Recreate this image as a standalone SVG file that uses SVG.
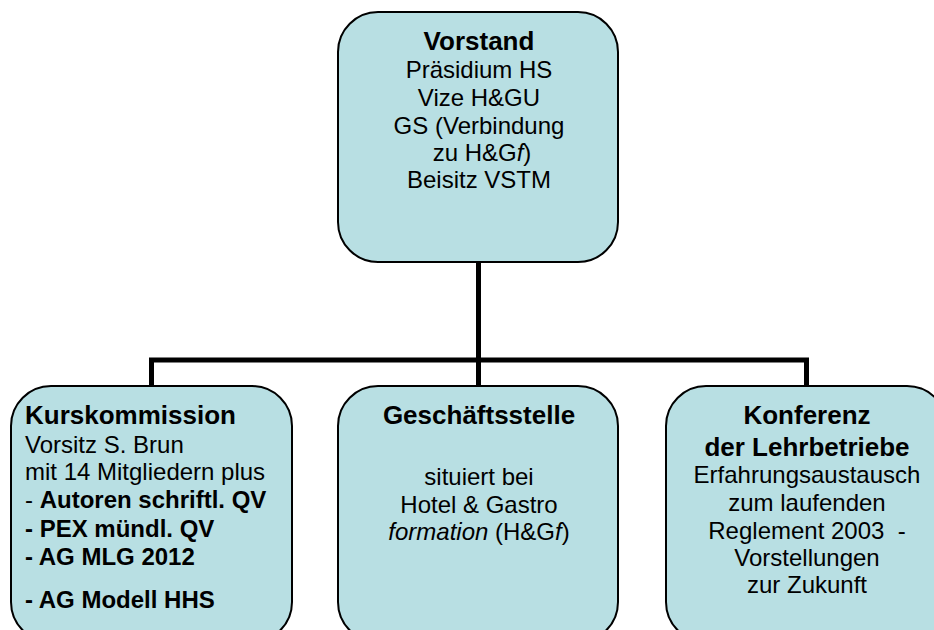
<svg xmlns="http://www.w3.org/2000/svg" width="934" height="630" viewBox="0 0 934 630">
<style>
.box{fill:#B8DFE3;stroke:#000;stroke-width:2}
.t{font-family:"Liberation Sans",Arial,sans-serif;font-size:24px;fill:#000}
.c{text-anchor:middle}
.b{font-weight:bold}
.h{font-weight:bold;font-size:26px}
.i{font-style:italic}
.conn{fill:none;stroke:#000;stroke-width:5;stroke-linejoin:miter;stroke-linecap:butt}
</style>
<rect width="934" height="630" fill="#fff"/>
<g id="connectors">
<path class="conn" d="M151.5,386 V360 H806.5 V386 M478.5,262 V386"/>
</g>
<g id="vorstand">
<rect class="box" x="338" y="12" width="280" height="250" rx="40" ry="40"/>
<text class="t c h" x="479" y="50">Vorstand</text>
<text class="t c" x="479" y="78">Präsidium HS</text>
<text class="t c" x="479" y="106">Vize H&amp;GU</text>
<text class="t c" x="479" y="134">GS (Verbindung</text>
<text class="t c" x="482" y="161">zu H&amp;G<tspan class="i">f</tspan>)</text>
<text class="t c" x="479" y="188">Beisitz VSTM</text>
</g>
<g id="kurskommission">
<rect class="box" x="11" y="386" width="281" height="256" rx="40" ry="40"/>
<text class="t h" x="25" y="424">Kurskommission</text>
<text class="t" x="25" y="453">Vorsitz S. Brun</text>
<text class="t" x="25" y="480">mit 14 Mitgliedern plus</text>
<text class="t" x="25" y="508">- <tspan class="b">Autoren schriftl. QV</tspan></text>
<text class="t b" x="25" y="537">- PEX mündl. QV</text>
<text class="t b" x="25" y="565">- AG MLG 2012</text>
<text class="t b" x="25" y="608">- AG Modell HHS</text>
</g>
<g id="geschaeftsstelle">
<rect class="box" x="338" y="386" width="280" height="256" rx="40" ry="40"/>
<text class="t c h" x="479" y="424">Geschäftsstelle</text>
<text class="t c" x="479" y="485">situiert bei</text>
<text class="t c" x="479" y="513">Hotel &amp; Gastro</text>
<text class="t c" x="479" y="540"><tspan class="i">formation</tspan> (H&amp;G<tspan class="i">f</tspan>)</text>
</g>
<g id="konferenz">
<rect class="box" x="666" y="386" width="281" height="256" rx="40" ry="40"/>
<text class="t c h" x="807" y="424">Konferenz</text>
<text class="t c h" x="807" y="456">der Lehrbetriebe</text>
<text class="t c" x="807" y="483">Erfahrungsaustausch</text>
<text class="t c" x="807" y="511">zum laufenden</text>
<text class="t c" x="807" y="539" xml:space="preserve">Reglement 2003  -</text>
<text class="t c" x="807" y="566">Vorstellungen</text>
<text class="t c" x="807" y="593">zur Zukunft</text>
</g>
</svg>
